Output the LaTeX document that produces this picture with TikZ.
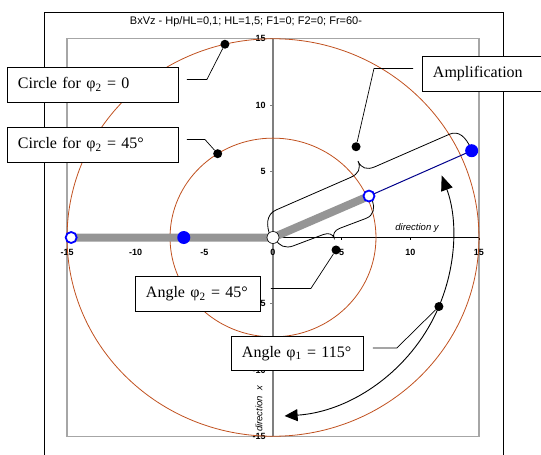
\documentclass[tikz,border=0pt]{standalone}
\usepackage{fontspec}
\setmainfont{Liberation Serif}
\setsansfont{Liberation Sans}
\usetikzlibrary{arrows.meta, positioning}
\definecolor{cring}{HTML}{C0501E}
\definecolor{cbar}{HTML}{959595}
\definecolor{cpoint}{HTML}{0000FF}
\definecolor{cnavy}{HTML}{00008B}
\definecolor{cframe}{HTML}{A6A6A6}
\definecolor{caxis}{HTML}{7F7F7F}
\tikzset{
  callout/.style={draw, fill=white, line width=0.9pt, font=\fontsize{16}{18}\selectfont, inner xsep=10.5pt, inner ysep=0pt, minimum height=35pt, align=left, anchor=north west, text width=#1},
  leader/.style={line width=0.7pt},
  blackdot/.style={circle, fill=black, inner sep=0pt, minimum size=9pt},
  fullpt/.style={circle, fill=cpoint, inner sep=0pt, minimum size=13pt},
  hollowpt/.style={circle, draw=cpoint, fill=white, line width=1.8pt, inner sep=0pt, minimum size=11pt},
  ring/.style={draw=cring, line width=0.8pt},
  ticklabel/.style={font=\sffamily\bfseries\fontsize{9}{10}\selectfont, inner sep=1pt},
  axislabel/.style={font=\sffamily\itshape\fontsize{9.5}{11}\selectfont, inner sep=1pt},
  curly/.style={line width=0.8pt},
  arcarrow/.style={{Triangle[length=13pt, width=12pt]}-{Triangle[length=15pt, width=12pt]}, line width=0.9pt},
}

\begin{document}
\begin{tikzpicture}[x=1pt, y=-1pt]
  \useasboundingbox (0,0) rectangle (541,455);
  \draw[line width=1pt] (44.5,470) -- (44.5,12.7) -- (503,12.7) -- (503,470);
  \node[font=\sffamily\fontsize{11}{13}\selectfont] (title) at (246,22) {BxVz - Hp/HL=0,1; HL=1,5; F1=0; F2=0; Fr=60-};
  \begin{scope}[shift={(273,237.5)}, x=13.73pt, y=13.25pt]
    \draw[cframe, line width=1.2pt] (-15,-15) rectangle (15,15);
    % axes
    \draw[caxis, line width=1.4pt] (0,-15) -- (0,15);
    \draw[line width=0.7pt] (-15,0) -- (15,0);
    \foreach \v in {-15,-10,-5,0,5,10,15} {
      \draw[line width=0.7pt] (\v,0) -- ++(0,-0.22);
      \draw[caxis, line width=1pt] (0,\v) -- ++(-0.22,0);
      \node[ticklabel] at (\v,-1.1) {\v};
    }
    \foreach \v in {-15,-10,-5,5,10,15} \node[ticklabel, anchor=east] at (-0.45,\v) {\v};
    \node[axislabel] (diry) at (10.49,0.72) {direction y};
    \node[axislabel, rotate=90] (dirx) at (-1.02,-12.94) {direction\ \ x};
    % circles
    \draw[ring] (0,0) circle[radius=15];
    \draw[ring] (0,0) circle[radius=7.5];
    % points
    \coordinate (pA) at (-14.7,0);
    \coordinate (pB) at (-6.5,0);
    \coordinate (pO) at (0,0);
    \coordinate (pC) at (6.99,3.13);
    \coordinate (pD) at (14.47,6.55);
    \draw[cbar, line width=8pt] (pA) -- (pO) -- (pC);
    \draw[cnavy, line width=1pt] (pC) -- (pD);
    % braces
    \begin{scope}[shift={(pO)}, rotate=23.6, x=1pt, y=1pt]
      \draw[curly] (-2,0) .. controls (-2,14) and (3,24) .. (14,24) -- (95,24) .. controls (104,24) and (108.5,28) .. (108.5,36) .. controls (108.5,28) and (113,24) .. (122,24) -- (203,24) .. controls (213,24) and (217,15) .. (217,2);
    \end{scope}
    \begin{scope}[shift={(pO)}, rotate=20.7, x=1pt, y=1pt]
      \draw[curly] (2,-2) .. controls (2,-10) and (8,-15) .. (16,-15) -- (48,-15) .. controls (54,-15) and (57,-18) .. (57,-22) .. controls (57,-18) and (60,-15) .. (66,-15) -- (94,-15) .. controls (102,-15) and (106,-8) .. (106,-1);
    \end{scope}
    % angle arrow
    \draw[arcarrow] ({13.1*cos(-86.3)},{13.5*sin(-86.3)}) arc[start angle=-86.3, end angle=20.3, x radius=13.1, y radius=13.5];
    \node[hollowpt] (nA) at (pA) {};
    \node[fullpt] (nB) at (pB) {};
    \node[circle, draw, fill=white, line width=0.6pt, inner sep=0pt, minimum size=12pt] (nO) at (pO) {};
    \node[hollowpt] (nC) at (pC) {};
    \node[fullpt] (nD) at (pD) {};
    % callout dots
    \node[blackdot] (dzero) at (103.5:15) {};
    \node[blackdot] (dfortyfive) at (122.5:7.5) {};
    \node[blackdot] (damp) at (6.05,6.85) {};
    \node[blackdot] (dphitwo) at (4.59,-0.94) {};
    \node[blackdot] (dphione) at ({13.1*cos(-22.7)},{13.5*sin(-22.7)}) {};
  \end{scope}
  % callouts
  \node[callout=150pt] (boxzero) at (7,67) {Circle for φ\textsubscript{2} = 0};
  \node[callout=150pt] (boxfortyfive) at (7,127) {Circle for φ\textsubscript{2} = 45°};
  \node[callout=105pt] (boxamp) at (422,56) {Amplification};
  \node[callout=104pt] (boxphitwo) at (135,276) {Angle φ\textsubscript{2} = 45°};
  \node[callout=111pt, minimum height=34pt] (boxphione) at (231,336) {Angle φ\textsubscript{1} = 115°};
  \draw[leader] ([shift={(8pt,5.5pt)}]boxzero.east) -- ++(20,0) -- (dzero);
  \draw[leader] ([shift={(8pt,5.5pt)}]boxfortyfive.east) -- ++(18,0) -- (dfortyfive);
  \draw[leader] ([shift={(-9pt,5.5pt)}]boxamp.west) -- ++(-39,0) -- (damp);
  \draw[leader] ([shift={(10pt,5.5pt)}]boxphitwo.east) -- ++(40,0) -- (dphitwo);
  \draw[leader] ([shift={(9pt,5.5pt)}]boxphione.east) -- ++(24,0) -- (dphione);
\end{tikzpicture}
\end{document}
